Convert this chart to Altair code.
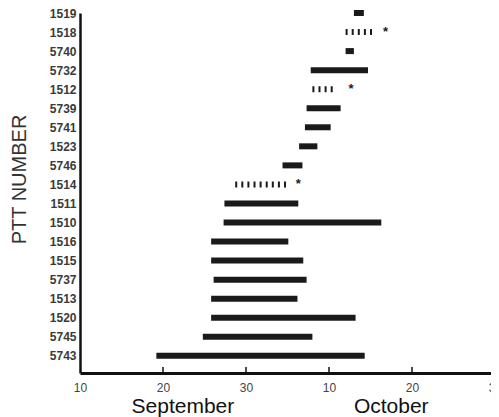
import altair as alt
import pandas as pd

ptt = ["1519", "1518", "5740", "5732", "1512", "5739", "5741", "1523", "5746", "1514",
       "1511", "1510", "1516", "1515", "5737", "1513", "1520", "5745", "5743"]
# day numbers: Sep d -> d, Oct d -> 30 + d
start = [43.0, 42.0, 42.0, 37.8, 38.0, 37.3, 37.1, 36.4, 34.4, 28.7,
         27.4, 27.3, 25.8, 25.8, 26.1, 25.8, 25.8, 24.8, 19.2]
end = [44.2, 45.3, 43.0, 44.7, 40.6, 41.4, 40.2, 38.6, 36.8, 35.3,
       36.3, 46.3, 35.1, 36.9, 37.3, 36.2, 43.2, 38.0, 44.3]
dotted = ["1518", "1512", "1514"]
star_ptt = ["1518", "1512", "1514"]
star_day = [46.8, 42.65, 36.3]
x_ticks = [10, 20, 30, 40, 50, 60]
months = ["September", "October"]
month_day = [22.4, 47.5]

n = len(ptt)
idx = {p: n - 1 - i for i, p in enumerate(ptt)}
df = pd.DataFrame({"ptt": ptt, "start": start, "end": end})
df["row"] = df["ptt"].map(idx)
df["dotted"] = df["ptt"].isin(dotted)
stars = pd.DataFrame({"ptt": star_ptt, "day": star_day})
stars["row"] = stars["ptt"].map(idx)
tdf = pd.DataFrame({"t": x_ticks[1:]})
mdf = pd.DataFrame({"m": months, "day": month_day})

W, H = 415, 360
FONT = "Liberation Sans"
names_rev = list(reversed(ptt))
label_expr = "[" + ",".join("'%s'" % p for p in names_rev) + "][datum.value]"

xscale = alt.Scale(domain=[10, 60], nice=False, zero=False)
yscale = alt.Scale(domain=[-0.9, 18], nice=False, zero=False)

xaxis = alt.Axis(values=x_ticks, labelExpr="datum.value > 30 ? datum.value - 30 : datum.value",
                 title=None, grid=False, ticks=False, labelPadding=9, labelFontSize=12,
                 labelFont=FONT, labelColor="#444", domainColor="#111", domainWidth=3,
                 labelFlush=False, labelOverlap=False)
yaxis = alt.Axis(values=list(range(n)), labelExpr=label_expr, title="PTT NUMBER",
                 grid=False, ticks=False, labelPadding=4, labelFontSize=12, labelFont=FONT,
                 labelFontWeight="bold", labelOverlap=False, labelBound=False,
                 labelColor="#3a3a3a", domainColor="#111", domainWidth=2.5,
                 titleFont=FONT, titleFontSize=20, titleFontWeight="normal", titleColor="#333",
                 titleAngle=270, titleAlign="center", titleBaseline="middle",
                 titleX=-61, titleY=166)


def X(field):
    return alt.X(field, scale=xscale, axis=xaxis)


def Y(field):
    return alt.Y(field, scale=yscale, axis=yaxis)


base = alt.Chart(df)
solid = base.transform_filter("!datum.dotted").mark_rule(
    strokeWidth=6, color="#1a1a1a", strokeCap="butt").encode(
    x=X("start:Q"), x2="end:Q", y=Y("row:Q"))
dots = base.transform_filter("datum.dotted").mark_rule(
    strokeWidth=6, color="#1a1a1a", strokeCap="butt", strokeDash=[2, 4.1]).encode(
    x=X("start:Q"), x2="end:Q", y=Y("row:Q"))
star = alt.Chart(stars).mark_text(text="*", fontSize=13, fontWeight="bold", font=FONT,
                                  color="#1a1a1a", baseline="middle").encode(
    x=X("day:Q"), y=Y("row:Q"))
ticks = alt.Chart(tdf).mark_rule(color="#111", strokeWidth=1.5).encode(
    x=X("t:Q"), y=alt.value(H - 6), y2=alt.value(H))
mon = alt.Chart(mdf).mark_text(fontSize=21, font=FONT, color="#111",
                               baseline="alphabetic", align="center").encode(
    x=X("day:Q"), y=alt.value(H + 40), text="m:N")

chart = alt.layer(solid, dots, star, ticks, mon).properties(
    width=W, height=H,
    autosize=alt.AutoSizeParams(type="none"),
    padding={"left": 72, "top": 5, "right": -4, "bottom": 45},
).configure_view(stroke=None)

chart.save("out.html", embed_options={"renderer": "svg", "actions": False})
